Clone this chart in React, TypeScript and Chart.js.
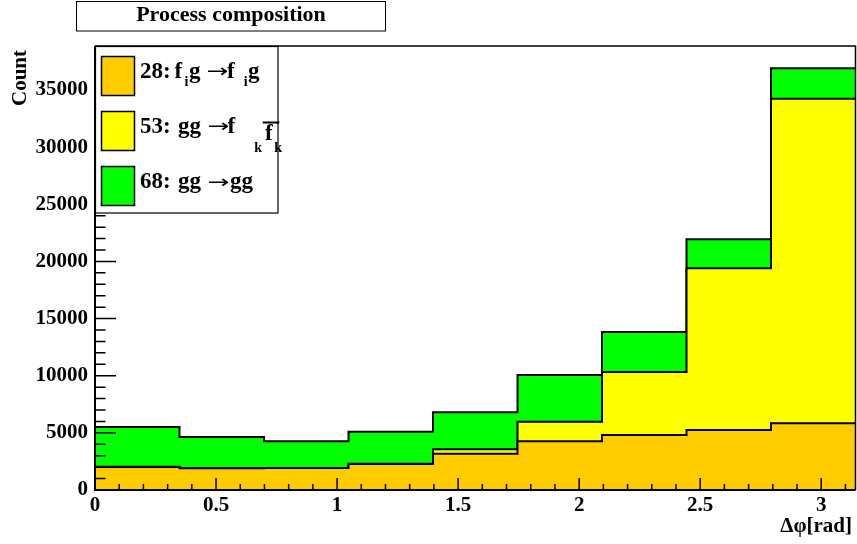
import React, { useEffect, useRef } from "react";
import { Chart, registerables } from "chart.js";

Chart.register(...registerables);

// ---- Data ----
const NBINS = 9;
const X_MIN = 0;
const X_MAX = Math.PI;
const binEdges: number[] = Array.from({ length: NBINS + 1 }, (_, i) => X_MIN + (i * (X_MAX - X_MIN)) / NBINS);

// process 28: f_i g -> f_i g
const proc28 = [2010, 1895, 1920, 2275, 3180, 4260, 4810, 5250, 5835];
// process 53: gg -> f_k fbar_k
const proc53 = [20, 15, 15, 30, 390, 1720, 5510, 14145, 28400];
// process 68: gg -> gg
const proc68 = [3482, 2730, 2335, 2795, 3225, 4080, 3500, 2535, 2660];

const xTickValues = [0, 0.5, 1, 1.5, 2, 2.5, 3];
const yTickValues = [0, 5000, 10000, 15000, 20000, 25000, 30000, 35000];
const Y_MAX = 38850;

const COLOR_28 = "#ffcc00";
const COLOR_53 = "#ffff00";
const COLOR_68 = "#00ff00";

const FONT = '"Liberation Serif", "Times New Roman", serif';
const ARROW_FONT = '"DejaVu Sans", "Liberation Serif", sans-serif';

function stackOn(base: number[], add: number[]) {
  return base.map((v, i) => v + add[i]);
}

const cum28 = proc28.slice();
const cum53 = stackOn(cum28, proc53);
const cum68 = stackOn(cum53, proc68);

function stepPoints(vals: number[]) {
  return binEdges.map((x, i) => ({ x, y: vals[Math.min(i, vals.length - 1)] }));
}

const framePlugin = {
  id: "rootFrame",
  afterDraw(chart: any) {
    const ctx: CanvasRenderingContext2D = chart.ctx;
    const { left, right, top, bottom } = chart.chartArea;
    const xs = chart.scales.x;
    const ys = chart.scales.y;
    ctx.save();
    ctx.strokeStyle = "#000";
    ctx.fillStyle = "#000";

    // frame top/right
    ctx.lineWidth = 1.5;
    ctx.beginPath();
    ctx.moveTo(left, top);
    ctx.lineTo(right, top);
    ctx.lineTo(right, bottom);
    ctx.stroke();

    // y axis ticks (major every 5000, minor every 1000)
    ctx.lineWidth = 1.5;
    ctx.beginPath();
    for (let v = 0; v <= Y_MAX; v += 1000) {
      const y = ys.getPixelForValue(v);
      const len = v % 5000 === 0 ? 21 : 10.5;
      ctx.moveTo(left, y);
      ctx.lineTo(left + len, y);
    }
    ctx.stroke();

    // x axis ticks (major every 0.5, minor every 0.1)
    ctx.beginPath();
    for (let i = 0; i * 0.1 <= X_MAX + 1e-9; i++) {
      const x = xs.getPixelForValue(i * 0.1);
      const len = i % 5 === 0 ? 12 : 6;
      ctx.moveTo(x, bottom);
      ctx.lineTo(x, bottom - len);
    }
    ctx.stroke();

    // axes
    ctx.lineWidth = 2;
    ctx.beginPath();
    ctx.moveTo(left, top);
    ctx.lineTo(left, bottom);
    ctx.lineTo(right, bottom);
    ctx.stroke();

    // axis titles
    ctx.font = `bold 21px ${FONT}`;
    ctx.textAlign = "right";
    ctx.textBaseline = "alphabetic";
    ctx.fillText("\u0394\u03c6[rad]", 852, 532);

    ctx.save();
    ctx.translate(20.5, 50);
    ctx.rotate(-Math.PI / 2);
    ctx.textAlign = "right";
    ctx.textBaseline = "middle";
    ctx.fillText("Count", 0, 0);
    ctx.restore();

    // title box
    ctx.fillStyle = "#fff";
    ctx.fillRect(76.5, 1.5, 309, 29.5);
    ctx.lineWidth = 1;
    ctx.strokeRect(76.5, 1.5, 309, 29.5);
    ctx.fillStyle = "#000";
    ctx.font = `bold 22px ${FONT}`;
    ctx.textAlign = "center";
    ctx.textBaseline = "alphabetic";
    ctx.fillText("Process composition", 231, 21);

    // legend box
    ctx.fillStyle = "#fff";
    ctx.fillRect(95.5, 46.5, 182.5, 166.5);
    ctx.lineWidth = 1.2;
    ctx.strokeRect(95.5, 46.5, 182.5, 166.5);

    const squares = [
      { c: COLOR_28, y: 56.5 },
      { c: COLOR_53, y: 111.5 },
      { c: COLOR_68, y: 166.5 },
    ];
    for (const s of squares) {
      ctx.fillStyle = s.c;
      ctx.fillRect(101.5, s.y, 33, 39);
      ctx.lineWidth = 1.5;
      ctx.strokeStyle = "#000";
      ctx.strokeRect(101.5, s.y, 33, 39);
    }

    ctx.fillStyle = "#000";
    ctx.textAlign = "left";
    ctx.textBaseline = "alphabetic";
    const main = `bold 23px ${FONT}`;
    const sub = `bold 14px ${FONT}`;
    const arrowFont = `18px ${ARROW_FONT}`;
    const draw = (t: string, x: number, y: number, f: string) => {
      ctx.font = f;
      ctx.fillText(t, x, y);
    };
    const drawArrow = (x: number, y: number) => {
      ctx.save();
      ctx.translate(x, y);
      ctx.scale(1.45, 1);
      ctx.font = arrowFont;
      ctx.fillText("\u2192", 0, 0);
      ctx.restore();
    };
    // entry 1
    let b = 77.5;
    draw("28:", 140, b, main);
    draw("f", 174.5, b, main);
    draw("i", 184.5, b + 8.8, sub);
    draw("g", 189, b, main);
    drawArrow(206.5, b - 0.5);
    draw("f", 227, b, main);
    draw("i", 243.7, b + 8.8, sub);
    draw("g", 248, b, main);
    // entry 2
    b = 132.7;
    draw("53:", 140, b, main);
    draw("gg", 178, b, main);
    drawArrow(207.5, b - 0.5);
    draw("f", 227.5, b, main);
    draw("k", 254.3, b + 19.3, sub);
    draw("f", 265, b + 7.6, main);
    draw("k", 274.3, b + 19.3, sub);
    ctx.lineWidth = 2;
    ctx.beginPath();
    ctx.moveTo(262.7, 122.5);
    ctx.lineTo(279.3, 122.5);
    ctx.stroke();
    // entry 3
    b = 188;
    draw("68:", 140, b, main);
    draw("gg", 178, b, main);
    drawArrow(207.5, b - 0.5);
    draw("gg", 230, b, main);

    ctx.restore();
  },
};

export default function App() {
  const ref = useRef<HTMLCanvasElement | null>(null);

  useEffect(() => {
    if (!ref.current) return;
    const mk = (label: string, vals: number[], color: string) => ({
      label,
      data: stepPoints(vals),
      stepped: "before" as const,
      fill: "origin",
      backgroundColor: color,
      borderColor: "#000",
      borderWidth: 2,
      pointRadius: 0,
      tension: 0,
    });
    const tickFont = { family: FONT, weight: "bold" as const, size: 21 };
    const chart = new Chart(ref.current, {
      type: "line",
      data: {
        datasets: [
          mk("28: f_i g \u2192 f_i g", cum28, COLOR_28),
          mk("53: gg \u2192 f_k fbar_k", cum53, COLOR_53),
          mk("68: gg \u2192 gg", cum68, COLOR_68),
        ] as any,
      },
      options: {
        responsive: false,
        animation: false,
        events: [],
        layout: { padding: { left: 0, top: 46, right: 1.5, bottom: 0 } },
        plugins: {
          legend: { display: false },
          tooltip: { enabled: false },
          title: { display: false },
        },
        scales: {
          x: {
            type: "linear",
            min: X_MIN,
            max: X_MAX,
            grid: { display: false, drawTicks: false },
            border: { display: false },
            ticks: {
              autoSkip: false,
              maxRotation: 0,
              padding: 3,
              color: "#000",
              font: tickFont,
              callback: (v: any) => String(v),
            },
            afterBuildTicks: (s: any) => {
              s.ticks = xTickValues.map((value) => ({ value }));
            },
            afterFit: (s: any) => {
              s.height = 54;
            },
          },
          y: {
            type: "linear",
            min: 0,
            max: Y_MAX,
            grid: { display: false, drawTicks: false },
            border: { display: false },
            ticks: {
              autoSkip: false,
              padding: 7,
              color: "#000",
              font: tickFont,
              callback: (v: any) => String(v),
            },
            afterBuildTicks: (s: any) => {
              s.ticks = yTickValues.map((value) => ({ value }));
            },
            afterFit: (s: any) => {
              s.width = 95;
            },
          },
        },
      } as any,
      plugins: [framePlugin],
    });
    return () => chart.destroy();
  }, []);

  return (
    <div style={{ position: "absolute", left: 0, top: 0, width: 857, height: 544, background: "#fff" }}>
      <canvas ref={ref} width={857} height={544} />
    </div>
  );
}
